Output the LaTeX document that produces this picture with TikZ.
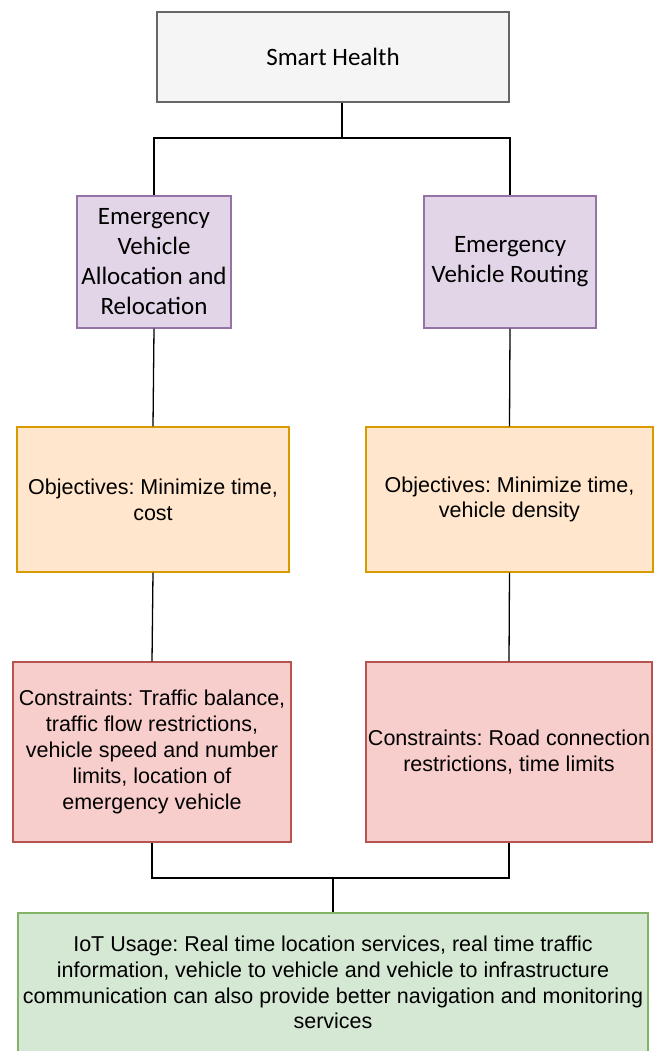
\documentclass[tikz,border=0pt]{standalone}
\usepackage{fontspec}
\setmainfont{Liberation Sans}
\newfontfamily\calibrifont{Carlito}
\usepackage{tikz}

\definecolor{greyfill}{HTML}{F5F5F5}
\definecolor{greyline}{HTML}{666666}
\definecolor{purplefill}{HTML}{E1D5E7}
\definecolor{purpleline}{HTML}{9673A6}
\definecolor{orangefill}{HTML}{FFE6CC}
\definecolor{orangeline}{HTML}{D79B00}
\definecolor{redfill}{HTML}{F8CECC}
\definecolor{redline}{HTML}{B85450}
\definecolor{greenfill}{HTML}{D5E8D4}
\definecolor{greenline}{HTML}{82B366}

\begin{document}
\frenchspacing
\begin{tikzpicture}[x=1pt, y=-1pt,
  box/.style={draw, rectangle, line width=1.2pt, inner sep=0pt, align=center},
  calibri/.style={font=\calibrifont\fontsize{25}{30}\selectfont},
  arial/.style={font=\fontsize{21.5}{25.8}\selectfont},
  topbox/.style={box, calibri, draw=greyline, fill=greyfill},
  taskbox/.style={box, calibri, draw=purpleline, fill=purplefill},
  objbox/.style={box, arial, draw=orangeline, fill=orangefill},
  conbox/.style={box, arial, draw=redline, fill=redfill},
  iotbox/.style={box, arial, draw=greenline, fill=greenfill},
  link/.style={draw=black, line width=1.3pt}]
  \useasboundingbox (0,0) rectangle (654,1051);
  \node[topbox, minimum width=352, minimum height=90] at (333,57) (sh) {Smart Health};
  \node[taskbox, minimum width=154, minimum height=132] at (154,262) (alloc) {Emergency\\Vehicle\\Allocation and\\Relocation};
  \node[taskbox, minimum width=172, minimum height=132] at (510,262) (route) {Emergency\\Vehicle Routing};
  \node[objbox, minimum width=272, minimum height=145] at (153,499.5) (objl) {Objectives: Minimize time,\\cost};
  \node[objbox, minimum width=287, minimum height=145] at (509.5,499.5) (objr) {Objectives: Minimize time,\\vehicle density};
  \node[conbox, minimum width=278, minimum height=180] at (152,752) (conl) {Constraints: Traffic balance,\\traffic flow restrictions,\\vehicle speed and number\\limits, location of\\emergency vehicle};
  \node[conbox, minimum width=286, minimum height=180] at (509,752) (conr) {Constraints: Road connection\\restrictions, time limits};
  \node[iotbox, minimum width=630, minimum height=139] at (333,982.5) (iot) {IoT Usage: Real time location services, real time traffic\\information, vehicle to vehicle and vehicle to infrastructure\\communication can also provide better navigation and monitoring\\services};
  \coordinate (jtop) at (342,138);
  \coordinate (jbot) at (333,878);
  \draw[link] ([xshift=9]sh.south) -- (jtop);
  \draw[link] (alloc.north) |- (jtop) -| (route.north);
  \draw[link] (alloc.south) -- (objl.north);
  \draw[link] (route.south) -- (objr.north);
  \draw[link] (objl.south) -- (conl.north);
  \draw[link] (objr.south) -- (conr.north);
  %\draw[link] (conl.south) -- (conr.south);
  \draw[link] (conl.south) |- (jbot) -| (conr.south);
  \draw[link] (jbot) -- (iot.north);
\end{tikzpicture}
\end{document}
